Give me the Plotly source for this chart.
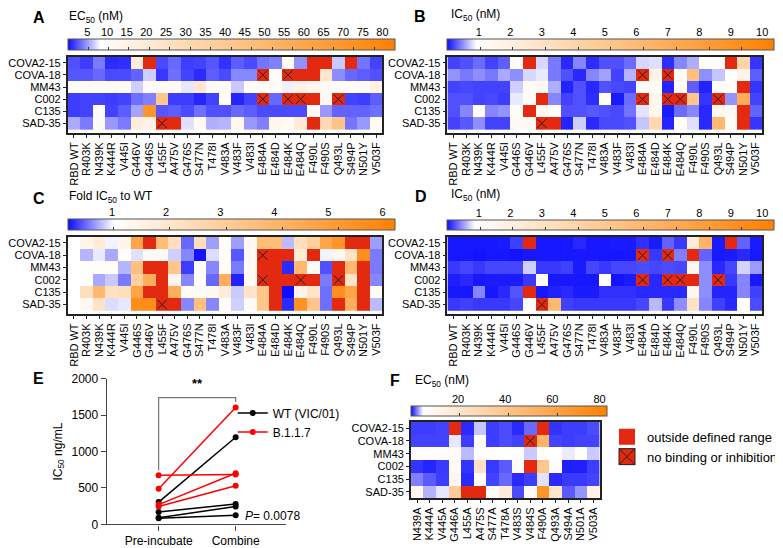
import plotly.graph_objects as go

W, H = 783, 548
OFF = 8                      # page body margin
FW, FH = W - OFF, H - OFF
FONT = "Liberation Sans, Arial, Helvetica, sans-serif"
BLUE = "#0d0dff"
ORANGE = "#ff8000"
RED = "#e3290f"
O = "out"   # outside defined range
N = "nb"    # no binding or inhibition

ANTIBODIES = ["COVA2-15", "COVA-18", "MM43", "C002", "C135", "SAD-35"]

MUT_A = ["RBD WT", "R403K", "N439K", "K444R", "V445I", "G446V", "G446S", "L455F",
         "A475V", "G476S", "S477N", "T478I", "V483A", "V483F", "V483I", "E484A",
         "E484D", "E484K", "E484Q", "F490L", "F490S", "Q493L", "S494P", "N501Y", "V503F"]
MUT_BCD = ["RBD WT", "R403K", "N439K", "K444R", "V445I", "G446S", "G446V", "L455F",
           "A475V", "G476S", "S477N", "T478I", "V483A", "V483F", "V483I", "E484A",
           "E484D", "E484K", "E484Q", "F490L", "F490S", "Q493L", "S494P", "N501Y", "V503F"]
MUT_F = ["N439A", "K444A", "V445A", "G446A", "L455A", "A475S", "S477A", "T478A",
         "V483S", "V484S", "F490A", "Q493A", "S494A", "N501A", "V503A"]

# A: EC50 (nM)
EC50_A = [
    [2.2, 1.6, 3.6, 1.0, 1.1, 18, O, 2.0, 3.0, 1.6, 1.8, 2.4, 1.2, 2.6, 2.0, 3.4, 3.8, 10, 4.4, O, O, 6.2, O, 3.4, 1.8],
    [2.4, 2.4, 3.0, 2.0, 2.0, 2.8, 6.4, 1.4, 3.2, 1.8, 1.0, 2.6, 2.0, 4.0, 4.0, N, 10, N, O, O, 22, 4.2, 3.0, 2.6, 2.2],
    [9, 10, 10, 10, 10, 6.4, 10, 10, 11, 7.2, 22, 10, 10, 6.2, 10, 10, 10, 7.5, 16, 13, 11, 10, 10, 10, 16],
    [1.6, 1.8, 1.8, 1.6, 1.8, 3.2, 3.8, 40, 1.6, 1.6, 0.8, 1.8, 10, 0.8, 1.8, N, 3.0, N, N, O, 12, N, 1.8, 1.6, 2.6],
    [1.6, 1.8, 10, 1.8, 2.6, 5.0, 68, 2.4, 2.6, 2.0, 3.2, 2.2, 2.2, 3.0, 2.6, 2.0, 2.0, 2.0, 2.0, 10, 4.6, 2.8, 2.8, 2.8, 3.2],
    [5.2, 3.6, 11, 4.6, 3.6, 18, 16, N, O, 7.0, 11, 5.4, 5.6, 12, 4.6, 3.8, 13, 11, 20, O, 30, 42, 3.4, 4.6, 11],
]

# B: IC50 (nM)
IC50_B = [
    [0.2, 0.25, 0.35, 0.2, 0.3, 1.1, O, 0.75, 0.4, 0.1, 0.45, 0.12, 0.25, 0.25, 0.35, 0.75, 0.78, 0.12, 0.45, 0.6, 1.1, 1.1, O, 4.0, 0.15],
    [0.5, 0.4, 0.48, 0.4, 0.58, 0.48, 0.75, 0.82, 0.4, 0.25, 0.1, 0.45, 0.55, 0.2, 0.62, N, 1.8, N, 1.1, 5.5, 0.48, 0.68, 0.9, 1.8, 0.3],
    [0.2, 0.22, 0.2, 0.2, 0.2, 0.72, 1.2, 1.3, 0.6, 0.08, 0.25, 0.1, 0.25, 0.22, 0.2, 1.1, 1.2, 0.08, 1.1, 0.3, 0.08, 1.2, 1.1, O, 0.15],
    [0.25, 0.25, 0.2, 0.22, 0.18, 0.82, 1.2, O, 0.45, 0.2, 0.25, 0.12, 1.0, 0.05, 0.35, N, 1.5, N, N, 5.0, 0.15, N, 0.5, 6.8, 0.2],
    [0.25, 0.45, 1.1, 0.45, 0.5, 1.2, O, 1.4, 1.1, 0.25, 0.25, 0.28, 0.25, 0.22, 0.38, 0.8, 1.5, 0.05, 0.35, 0.45, 0.1, 1.4, 1.3, O, 0.32],
    [0.2, 0.28, 0.48, 0.2, 0.2, 1.3, 1.3, N, O, 0.08, 0.72, 0.1, 0.22, 0.22, 0.25, 0.68, 3.8, 0.08, 1.1, 0.78, 0.1, 6.0, 1.2, O, 0.15],
]

# C: fold IC50 to WT
FOLD_C = [
    [1.0, 1.4, 1.8, 0.96, 1.4, 4.6, O, 3.6, 2.3, 0.49, 2.3, 0.67, 1.1, 0.67, 1.3, 3.6, 3.6, 0.77, 2.3, 2.9, 4.6, 5.2, O, O, 0.67],
    [1.0, 0.75, 0.93, 0.71, 1.05, 0.9, 1.2, 1.2, 0.84, 0.59, 0.2, 0.88, 1.05, 0.43, 1.2, N, O, O, 1.8, O, 0.96, 1.3, 2.1, 5.4, 0.55],
    [1.0, 1.05, 1.1, 1.1, 0.75, 3.5, O, O, 3.3, 0.34, 1.15, 0.59, 1.15, 0.55, 1.2, O, O, 0.28, 3.8, 1.2, 0.41, O, 3.8, O, 0.55],
    [1.0, 1.0, 0.71, 0.82, 0.55, 2.9, 4.2, O, 1.4, 0.59, 1.05, 0.49, 4.2, 0.25, 1.2, N, O, O, N, O, 0.55, N, 2.1, O, 0.59],
    [1.0, 2.3, 3.8, 2.2, 2.3, 4.6, O, O, 4.2, 1.1, 1.15, 1.3, 1.7, 0.82, 2.1, 3.3, O, 0.18, 1.4, 2.1, 0.51, 5.4, 4.6, O, 1.1],
    [1.0, 1.3, 2.1, 0.88, 0.92, 5.5, 5.5, N, O, 0.59, 3.5, 0.59, 1.05, 0.84, 1.2, 3.3, O, 0.28, 5.3, 3.3, 0.51, O, 4.2, O, 0.77],
]

# D: IC50 (nM)
IC50_D = [
    [0.04, 0.04, 0.04, 0.04, 0.05, 0.18, O, 0.04, 0.04, 0.04, 0.1, 0.04, 0.04, 0.05, 0.05, 0.12, 0.05, 0.3, 0.15, 2.3, 6.3, 0.05, O, 0.3, 0.05],
    [0.03, 0.03, 0.02, 0.03, 0.03, 0.02, 0.04, 0.04, 0.04, 0.04, 0.04, 0.04, 0.03, 0.03, 0.04, N, 0.15, N, 0.4, O, 0.3, 0.04, 0.05, 0.1, 0.04],
    [0.15, 0.2, 0.15, 0.2, 0.2, 0.2, 0.68, 0.15, 0.15, 0.18, 0.05, 0.2, 0.15, 0.2, 0.2, 0.22, 0.2, 0.22, 0.2, 1.5, 0.45, 0.1, 0.2, 0.7, 0.5],
    [0.06, 0.1, 0.04, 0.05, 0.05, 0.05, 0.15, 1.2, 0.04, 0.04, 0.04, 0.04, 0.9, 0.02, 0.05, N, 0.1, N, N, O, 0.45, N, 0.15, 0.42, 0.04],
    [0.04, 0.04, 0.42, 0.03, 0.1, 0.25, O, 0.04, 0.07, 0.1, 0.05, 0.05, 0.12, 0.12, 0.12, 0.1, 0.1, 0.1, 0.1, 1.5, 0.45, 0.08, 0.08, 0.42, 0.18],
    [0.15, 0.18, 0.15, 0.15, 0.15, 0.2, 1.0, N, 6.0, 0.18, 0.15, 0.15, 0.15, 0.15, 0.15, 0.2, 0.6, 0.15, 0.45, 3.0, 0.42, 0.18, 0.1, 0.95, 0.22],
]

# F: EC50 (nM), alanine mutants
EC50_F = [
    [1.0, 1.0, 1.1, O, 0.6, 3.8, 1.0, 1.3, 0.6, 1.9, O, 0.8, 1.0, 1.0, 1.3],
    [1.1, 1.1, 1.1, 4.5, 1.0, 7, 1.0, 1.3, 1.1, N, 50, 1.1, 1.0, 1.1, 1.1],
    [6, 6, 6, 8, 3.6, 5.5, 5.5, 5.5, 5.5, 3.9, 5.5, 5.5, 4.6, 5.2, 3.9],
    [0.8, 0.5, 0.9, 8, 0.8, 22, 0.9, 1.6, 7, O, 38, 7, 0.4, 0.4, 1.0],
    [2.4, 1.6, 1.0, 10, 0.6, 5.5, 1.1, 1.9, 0.6, 1.0, 4.4, 0.6, 0.9, 0.9, 1.1],
    [10, 3.4, 4.5, 35, O, O, 7, 17, 1.3, 7, 68, 19, 1.6, 2.8, 13],
]

TICKS_A = [5, 10, 15, 20, 25, 30, 35, 40, 45, 50, 55, 60, 65, 70, 75, 80]
TICKS_B = [1, 2, 3, 4, 5, 6, 7, 8, 9, 10]
TICKS_C = [1, 2, 3, 4, 5, 6]
TICKS_F = [20, 40, 60, 80]

# E: IC50 ng/mL, pre-incubate vs combine
CONDITIONS = ["Pre-incubate", "Combine"]
WT_PRE = [307, 171, 92, 86]
WT_COMB = [1197, 281, 246, 127]
B117_PRE = [491, 675, 272, 246]
B117_COMB = [1605, 684, 702, 531]


def px(x):
    return (x - OFF) / FW


def py(y):
    return 1 - (y - OFF) / FH


def lay(a):
    return "xaxis" + a[1:] if a[0] == "x" else "yaxis" + a[1:]


PANELS = [
    dict(raw=EC50_A, cols=MUT_A, xa="x", ya="y", x0=56.5, x1=383.5, top=51, bot=130,
         zmin=0, zmax=80, white=8, ticks=TICKS_A, cbt=33, cbh=11, lx="x7", ly="y7"),
    dict(raw=IC50_B, cols=MUT_BCD, xa="x2", ya="y2", x0=451, x1=778, top=51, bot=130,
         zmin=0, zmax=10, white=0.9, ticks=TICKS_B, cbt=33, cbh=11, lx="x8", ly="y8"),
    dict(raw=FOLD_C, cols=MUT_BCD, xa="x3", ya="y3", x0=56.5, x1=383.5, top=237, bot=317,
         zmin=0.18, zmax=6, white=1, ticks=TICKS_C, cbt=219, cbh=11, lx="x9", ly="y9"),
    dict(raw=IC50_D, cols=MUT_BCD, xa="x4", ya="y4", x0=451, x1=778, top=237, bot=317,
         zmin=0, zmax=10, white=0.85, ticks=TICKS_B, cbt=220, cbh=10, lx="x10", ly="y10"),
    dict(raw=EC50_F, cols=MUT_F, xa="x6", ya="y6", x0=413, x1=609, top=428, bot=507,
         zmin=0, zmax=80, white=5, ticks=TICKS_F, cbt=412, cbh=10, lx="x11", ly="y11"),
]

fig = go.Figure()
layout = {}

for p in PANELS:
    z, red, nbx, nby = [], [], [], []
    for r, row in enumerate(p["raw"]):
        zr, rr = [], []
        for c, v in enumerate(row):
            if v in (O, N):
                zr.append(None)
                rr.append(1)
                if v == N:
                    nbx.append(p["cols"][c])
                    nby.append(ANTIBODIES[r])
            else:
                zr.append(v)
                rr.append(None)
        z.append(zr)
        red.append(rr)

    wf = (p["white"] - p["zmin"]) / (p["zmax"] - p["zmin"])
    cs = [[0, BLUE], [wf, "#ffffff"], [1, ORANGE]]
    fig.add_trace(go.Heatmap(
        z=z, x=p["cols"], y=ANTIBODIES, xaxis=p["xa"], yaxis=p["ya"],
        zmin=p["zmin"], zmax=p["zmax"], colorscale=cs, hoverongaps=False,
        colorbar=dict(orientation="h", x=px(p["x0"]), xanchor="left",
                      y=py(p["cbt"]), yanchor="top", lenmode="pixels",
                      len=p["x1"] - p["x0"], thickness=p["cbh"], xpad=0, ypad=0,
                      outlinewidth=1, outlinecolor="#555", ticks="inside", ticklen=3,
                      tickwidth=1, tickcolor="#333", tickvals=p["ticks"],
                      showticklabels=False)))
    fig.add_trace(go.Heatmap(
        z=red, x=p["cols"], y=ANTIBODIES, xaxis=p["xa"], yaxis=p["ya"],
        zmin=0, zmax=1, colorscale=[[0, RED], [1, RED]], showscale=False,
        hoverongaps=False))
    fig.add_trace(go.Scatter(
        x=nbx, y=nby, mode="markers", xaxis=p["xa"], yaxis=p["ya"], showlegend=False,
        marker=dict(symbol="x-thin", size=9.3, line=dict(width=1, color="#222"))))
    # axis carrying the colour-bar tick labels
    fig.add_trace(go.Scatter(x=[None], y=[None], xaxis=p["lx"], yaxis=p["ly"],
                             showlegend=False, hoverinfo="skip"))

    layout[lay(p["xa"])] = dict(
        domain=[px(p["x0"]), px(p["x1"])], anchor=p["ya"], type="category",
        tickmode="array", tickvals=p["cols"], ticktext=p["cols"],
        tickangle=-90, ticks="outside", ticklen=3, tickcolor="#222",
        tickfont=dict(size=11, color="#000"), showline=True, mirror=True,
        linecolor="#222", linewidth=1.5, showgrid=False, zeroline=False)
    layout[lay(p["ya"])] = dict(
        domain=[py(p["bot"]), py(p["top"])], anchor=p["xa"], autorange="reversed",
        type="category", tickmode="array", tickvals=ANTIBODIES, ticktext=ANTIBODIES,
        ticks="outside", ticklen=3, tickcolor="#222",
        tickfont=dict(size=11, color="#000"), showline=True, mirror=True,
        linecolor="#222", linewidth=1.5, showgrid=False, zeroline=False)
    layout[lay(p["lx"])] = dict(
        domain=[px(p["x0"]), px(p["x1"])], anchor=p["ly"], range=[p["zmin"], p["zmax"]],
        side="top", tickvals=p["ticks"], ticks="", showline=False, showgrid=False,
        zeroline=False, tickfont=dict(size=11, color="#000"), fixedrange=True)
    layout[lay(p["ly"])] = dict(
        domain=[py(p["cbt"] + p["cbh"]), py(p["cbt"])], anchor=p["lx"], range=[0, 1],
        visible=False, fixedrange=True)

# panel E
for i in range(len(WT_PRE)):
    fig.add_trace(go.Scatter(
        x=CONDITIONS, y=[WT_PRE[i], WT_COMB[i]], mode="lines+markers",
        line=dict(color="#000", width=1.5), marker=dict(size=6, color="#000"),
        name="WT (VIC/01)", legendgroup="wt", showlegend=(i == 0),
        xaxis="x5", yaxis="y5"))
for i in range(len(B117_PRE)):
    fig.add_trace(go.Scatter(
        x=CONDITIONS, y=[B117_PRE[i], B117_COMB[i]], mode="lines+markers",
        line=dict(color="#ff0000", width=1.5), marker=dict(size=6, color="#ff0000"),
        name="B.1.1.7", legendgroup="b117", showlegend=(i == 0),
        xaxis="x5", yaxis="y5"))

layout["xaxis5"] = dict(
    domain=[px(97), px(283)], anchor="y5", type="category", range=[-0.675, 1.65],
    ticks="outside", ticklen=5, tickcolor="#444", showline=True, linecolor="#444",
    linewidth=1.2, showgrid=False, zeroline=False, tickfont=dict(size=12, color="#000"))
layout["yaxis5"] = dict(
    domain=[py(534), py(383.5)], anchor="x5", range=[0, 2000],
    tickvals=[0, 500, 1000, 1500, 2000], ticks="outside", ticklen=5, tickcolor="#444",
    showline=True, linecolor="#444", linewidth=1.2, showgrid=False, zeroline=False,
    tickfont=dict(size=12, color="#000"),
    title=dict(text="IC<sub>50</sub> ng/mL", font=dict(size=12, color="#000"), standoff=6))

# legend entries for the heat-map key
fig.add_trace(go.Scatter(x=[None], y=[None], mode="markers", name="outside defined range",
                         marker=dict(symbol="square", size=16, color=RED,
                                     line=dict(width=0)),
                         legend="legend2", xaxis="x6", yaxis="y6"))
fig.add_trace(go.Scatter(x=[None], y=[None], mode="markers", name="no binding or inhibition",
                         marker=dict(symbol="square-x", size=16, color=RED,
                                     line=dict(width=1, color="#222")),
                         legend="legend2", xaxis="x6", yaxis="y6"))

shapes = [
    dict(type="path", xref="x5", yref="y5", path="M 0,740 L 0,1740 L 1,1740 L 1,1680",
         line=dict(color="#777", width=1.2)),
]

annotations = []
for letter, lx, ly in [("A", 27, 11), ("B", 423, 10), ("C", 27, 197),
                       ("D", 424, 195), ("E", 26, 383), ("F", 397, 385)]:
    annotations.append(dict(text="<b>%s</b>" % letter, x=px(lx), y=py(ly), xref="paper",
                            yref="paper", showarrow=False, xanchor="center",
                            yanchor="middle", font=dict(size=16, color="#000")))
for text, tx, ty in [("EC<sub>50</sub> (nM)", 56, 10), ("IC<sub>50</sub> (nM)", 453, 8),
                     ("Fold IC<sub>50</sub> to WT", 56, 196), ("IC<sub>50</sub> (nM)", 453, 194),
                     ("EC<sub>50</sub> (nM)", 415, 386)]:
    annotations.append(dict(text=text, x=px(tx), y=py(ty), xref="paper", yref="paper",
                            showarrow=False, xanchor="left", yanchor="middle",
                            font=dict(size=12, color="#000")))
annotations.append(dict(text="<b>**</b>", x=0.5, y=1800, xref="x5", yref="y5",
                        showarrow=False, yanchor="bottom", font=dict(size=13, color="#000")))
annotations.append(dict(text="<i>P</i>= 0.0078", x=1.1, y=110, xref="x5", yref="y5",
                        showarrow=False, xanchor="left", yanchor="middle",
                        font=dict(size=12, color="#000")))

fig.update_layout(
    width=FW, height=FH, margin=dict(l=0, r=0, t=0, b=0),
    paper_bgcolor="white", plot_bgcolor="white",
    font=dict(family=FONT, size=11, color="#000"),
    shapes=shapes, annotations=annotations,
    legend=dict(x=px(228), y=py(404), xanchor="left", yanchor="top",
                bgcolor="rgba(0,0,0,0)", font=dict(size=12), tracegroupgap=0),
    legend2=dict(x=px(617), y=py(428), xanchor="left", yanchor="top",
                 bgcolor="rgba(0,0,0,0)", font=dict(size=13), tracegroupgap=2),
    **layout,
)

fig.write_html("out.html")
